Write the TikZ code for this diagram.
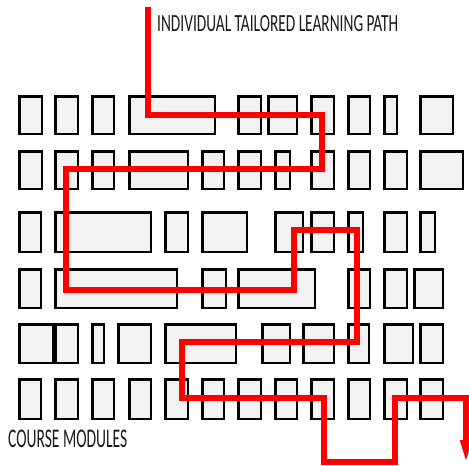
\documentclass[tikz,border=0pt]{standalone}
\usepackage{graphicx}
\usepackage{fontspec}
\setmainfont{Carlito}
\usetikzlibrary{arrows.meta}
\definecolor{modfill}{HTML}{F2F2F2}
\definecolor{pathred}{HTML}{FF0000}
\definecolor{txt}{HTML}{1A1A1A}
\tikzset{
  module/.style={draw=black, line width=2.4pt, fill=modfill, inner sep=0pt, anchor=north west},
  route/.style={draw=pathred, line width=6pt, line join=miter, -{Triangle[length=26pt,width=10pt]}},
  lbl/.style={inner sep=0pt, text=txt, anchor=south west}
}
\newcommand{\modrow}[4]{%
  \foreach \xa/\xb [count=\c] in {#4} {%
    \pgfmathsetmacro\mw{\xb-\xa-2.4}%
    \pgfmathsetmacro\mh{#3-#2-2.4}%
    \node[module, minimum width=\mw pt, minimum height=\mh pt] (m#1-\c) at (\xa+1.2,#2+1.2) {};
  }%
}
\begin{document}
\begin{tikzpicture}[x=1pt,y=-1pt]
\useasboundingbox (0,0) rectangle (469,466);
% course modules
\modrow{1}{94}{134}{17/42,53/78,90/114,127/215,236/261,266/297,309/334,346/370,382/397,418/453}
\modrow{2}{149}{189}{17/42,53/78,90/114,127/188,200/224,236/261,273/290,309/334,346/370,382/407,418/463}
\modrow{3}{210}{252}{17/41,53/151,163/188,200/247,273/303,309/334,346/363,382/407,418/435}
\modrow{4}{267}{308}{17/41,53/177,200/226,236/315,346/370,382/407,412/443}
\modrow{5}{322}{363}{17/53,53/78,90/104,116/151,163/236,260/290,301/334,346/369,382/413,418/443}
\modrow{6}{377}{419}{17/41,53/78,90/114,127/151,163/188,200/224,236/261,273/297,309/334,346/370,382/407,418/443}
% path vertices
\coordinate (p0) at (148,7);
\coordinate (p1) at (148,115);
\coordinate (p2) at (322,115);
\coordinate (p3) at (322,169);
\coordinate (p4) at (66,169);
\coordinate (p5) at (66,290);
\coordinate (p6) at (294,290);
\coordinate (p7) at (294,230);
\coordinate (p8) at (357,230);
\coordinate (p9) at (357,342);
\coordinate (p10) at (182,342);
\coordinate (p11) at (182,398);
\coordinate (p12) at (324,398);
\coordinate (p13) at (324,462);
\coordinate (p14) at (395,462);
\coordinate (p15) at (395,398);
\coordinate (p16) at (466,398);
\coordinate (p17) at (466,466);
\draw[route] (p0) -- (p1) -- (p2) -- (p3) -- (p4) -- (p5) -- (p6) -- (p7) -- (p8) -- (p9) -- (p10) -- (p11) -- (p12) -- (p13) -- (p14) -- (p15) -- (p16) -- (p17);
% labels
\node[lbl] (title) at (157,32) {\resizebox{241pt}{16pt}{INDIVIDUAL TAILORED LEARNING PATH}};
\node[lbl] (modules) at (8,448) {\resizebox{119pt}{17.5pt}{COURSE MODULES}};
\end{tikzpicture}
\end{document}
